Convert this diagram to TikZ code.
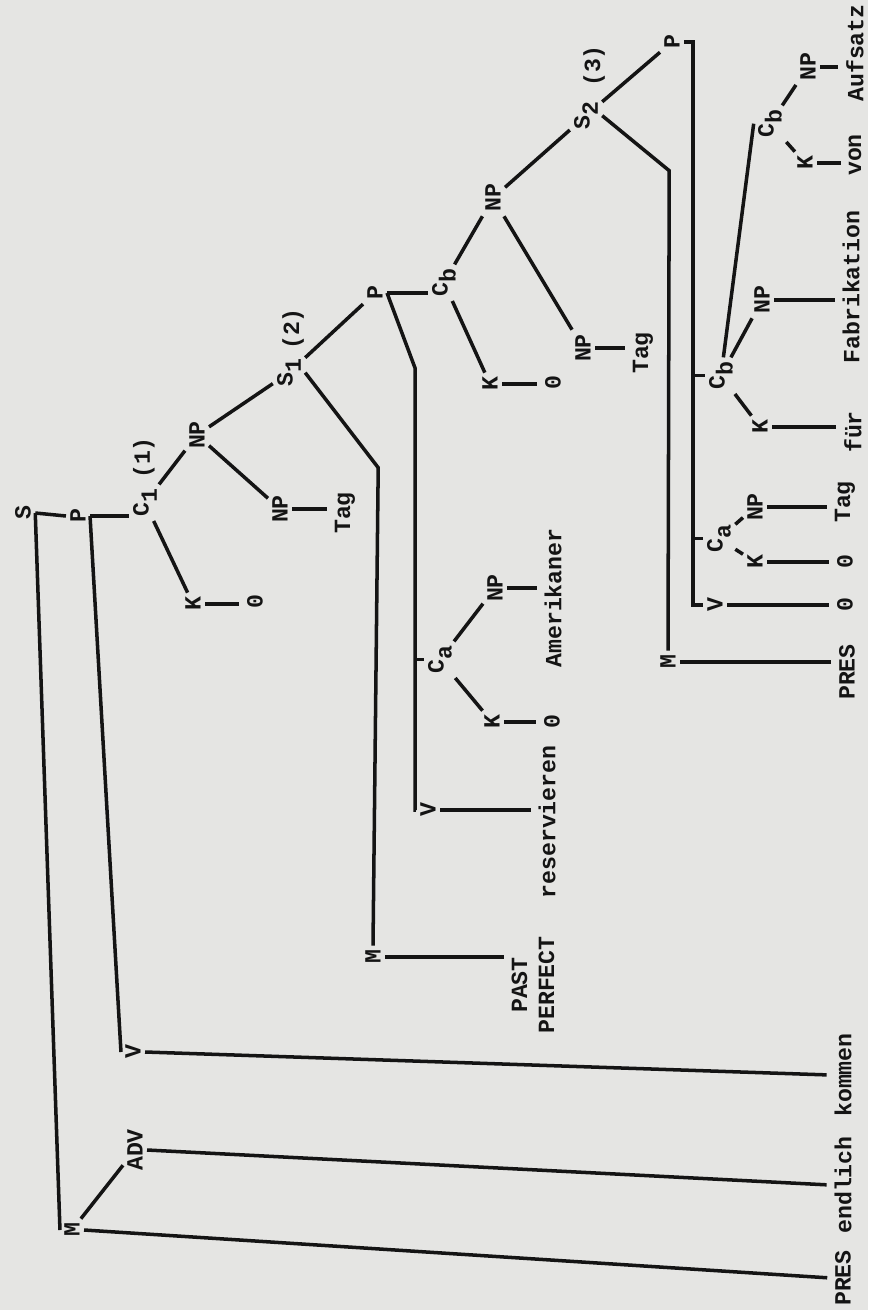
\documentclass[tikz,border=0pt]{standalone}
\usepackage{fontspec}
\newfontfamily\typer{Liberation Mono}
\newcommand\dn[1]{\raisebox{-.35em}{#1}}
\definecolor{paper}{RGB}{229,229,227}
\definecolor{ink}{RGB}{20,20,20}

\begin{document}
\begin{tikzpicture}[
  x=0.02cm, y=-0.02cm,
  line width=2pt, ink,
  every node/.style={rotate=90, inner sep=1.5pt,
    font=\typer\bfseries\fontsize{13.2}{15.3}\selectfont},
  cat/.style={anchor=west},
  leafline/.style={shorten >=2pt}
]
\path[use as bounding box, fill=paper] (0,0) rectangle (868,1310);

% top level
\node (S)  at (23,513)  {S};
\node (P1) at (78,516)  {P};
\node[cat] (C1) at (145,521) {C\dn{1}};
\node (C1n) at (144,458) {(1)};
\node (M1) at (72,1230) {M};
\node (ADV) at (135,1150) {ADV};
\node (V1) at (133,1052) {V};
\node (NP1a) at (197,435) {NP};
\node (NP1b) at (280,509) {NP};
\node (K1) at (193,604) {K};

% S1 (2)
\node[cat] (S1) at (289,391) {S\dn{1}};
\node (S1n) at (293,329) {(2)};
\node (P2) at (375,293) {P};
\node (M2) at (373,957) {M};
\node (V2) at (428,810) {V};
\node[cat] (Ca2) at (440,678) {C\dn{a}};
\node (NPa2) at (495,588) {NP};
\node (Ka2) at (492,722) {K};
\node[cat] (Cb1) at (444,301) {C\dn{b}};
\node (NP2a) at (493,198) {NP};
\node (NP2b) at (583,348) {NP};
\node (Kb1) at (490,384) {K};

% S2 (3)
\node[cat] (S2) at (586,134) {S\dn{2}};
\node (S2n) at (594,66) {(3)};
\node (P3) at (672,42) {P};
\node (M3) at (668,662) {M};
\node (V3) at (715,605) {V};
\node[cat] (Ca3) at (719,557) {C\dn{a}};
\node (NPa3) at (755,507) {NP};
\node (Ka3) at (755,562) {K};
\node[cat] (Cb2) at (721,394) {C\dn{b}};
\node (NPb2) at (762,300) {NP};
\node (Kb2) at (760,427) {K};
\node[cat] (Cb3) at (770,142) {C\dn{b}};
\node (NPb3) at (808,67) {NP};
\node (Kb3) at (805,163) {K};

% words
\node (zero1) at (255,602) {0};
\node (tag1) at (345,513) {Tag};
\node (zero2) at (553,383) {0};
\node (tag2) at (643,353) {Tag};
\node (amer) at (553,598) {Amerikaner};
\node (zero3) at (552,722) {0};
\node (reserv) at (547,822) {reservieren};
\node[align=center] (pastperf) at (533,985) {PAST\\PERFECT};
\node (pres3) at (847,672) {PRES};
\node (zero4) at (845,605) {0};
\node (zero5) at (845,562) {0};
\node (tag3) at (845,502) {Tag};
\node (fuer) at (853,432) {für};
\node (fabrik) at (851,287) {Fabrikation};
\node (von) at (855,155) {von};
\node (aufsatz) at (855,53) {Aufsatz};
\node (kommen) at (843,1075) {kommen};
\node (endlich) at (843,1185) {endlich};
\node (pres1) at (843,1278) {PRES};

% branches
\draw (S.south) -- (P1.north);
\draw (S.south) -- (M1.north);
\draw (P1.south) -- (P1.south -| C1.north);
\draw (P1.south) -- (V1.north);
\draw (M1) -- (ADV);
\draw (C1) -- (NP1a);
\draw (C1) -- (K1);
\draw (NP1a) -- (S1);
\draw (NP1a) -- (NP1b);

\draw (S1) -- (P2);
\draw (S1.south) -- ++(73,95) -- (M2.east);
\draw (P2.south) -- (P2.south -| Cb1.north);
\draw (P2.south) -- ++(28,75) coordinate (P2b) |- (V2.north);
\draw (Ca2.north) -- (Ca2.north -| P2b);
\draw (Ca2) -- (NPa2);
\draw (Ca2) -- (Ka2);
\draw (Cb1) -- (NP2a);
\draw (Cb1) -- (Kb1);
\draw (NP2a) -- (S2);
\draw (NP2a) -- (NP2b);

\draw (S2) -- (P3);
\draw (S2.south) -- ++(67,55) -- (M3.east);
\draw (P3.south) -- ++(9,0) coordinate (P3b) |- (V3.north);
\draw (Ca3.north) -- (Ca3.north -| P3b);
\draw (Cb2.north) -- (Cb2.north -| P3b);
\draw (Ca3) -- (NPa3);
\draw (Ca3) -- (Ka3);
\draw (Cb2) -- (Kb2);
\draw (Cb2) -- (NPb2);
\draw (Cb2) -- (Cb3.north);
\draw (Cb3) -- (NPb3);
\draw (Cb3) -- (Kb3);

% lines to the words
\foreach \a/\b in {K1/zero1, NP1b/tag1, Kb1/zero2, NP2b/tag2, Ka2/zero3,
    NPa2/amer, V2/reserv, M2/pastperf, M3/pres3, V3/zero4, Ka3/zero5,
    NPa3/tag3, Kb2/fuer, NPb2/fabrik, Kb3/von, NPb3/aufsatz}
  \draw[leafline] (\a.south) -- (\a.south -| \b.north);
\foreach \a/\b in {M1/pres1, ADV/endlich, V1/kommen}
  \draw[leafline] (\a.south) -- (\b.north);
\end{tikzpicture}
\end{document}
